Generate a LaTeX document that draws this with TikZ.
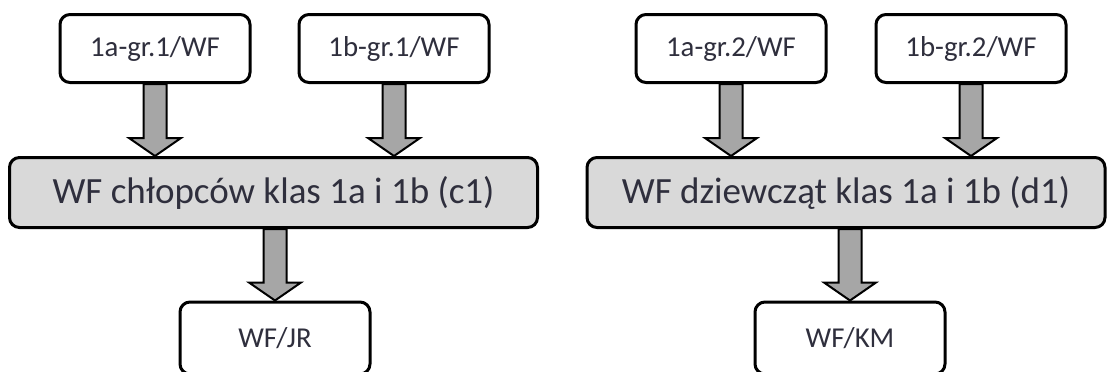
\documentclass[tikz,border=0pt]{standalone}
\usepackage{fontspec}
\setmainfont{Carlito}
\usepackage{xcolor}
\usepackage{tikz}
\usetikzlibrary{calc,backgrounds}

\definecolor{txtgray}{HTML}{2F2F3D}
\definecolor{classgray}{HTML}{D9D9D9}
\definecolor{arrowgray}{HTML}{A6A6A6}

\tikzset{
    groupbox/.style={draw, line width=1.5pt, rounded corners=5pt, fill=white, text=txtgray,
        minimum width=95pt, minimum height=34pt, inner sep=0pt,
        font=\fontsize{14.4}{17}\selectfont},
    classbox/.style={groupbox, fill=classgray, minimum height=35pt,
        font=\fontsize{18.5}{22}\selectfont},
    fatarrow/.style={draw, line width=1pt, fill=arrowgray, line join=miter,
        to path={let \p1=(\tikztostart), \p2=(\tikztotarget) in
            (\x1-5.75pt,\y1) -- (\x1-5.75pt,\y2+9pt) -- (\x1-13pt,\y2+9pt) -- (\x2,\y2)
            -- (\x1+13pt,\y2+9pt) -- (\x1+5.75pt,\y2+9pt) -- (\x1+5.75pt,\y1) -- cycle}}
}

\begin{document}
\begin{tikzpicture}[x=0.5pt, y=-0.5pt]
    \useasboundingbox (0,0) rectangle (1107,371);

    % Boys: groups, joint class, teacher
    \node[groupbox] (g1a) at (155,48.5) {1a-gr.1/WF};
    \node[groupbox] (g1b) at (394,48.5) {1b-gr.1/WF};
    \node[classbox, minimum width=264pt] (c1) at (273.5,192.5) {WF chłopców klas 1a i 1b (c1)};
    \node[groupbox, minimum height=36pt] (wfjr) at (275,338) {WF/JR};

    % Girls: groups, joint class, teacher
    \node[groupbox] (g2a) at (731,48.5) {1a-gr.2/WF};
    \node[groupbox] (g2b) at (971,48.5) {1b-gr.2/WF};
    \node[classbox, minimum width=259pt] (d1) at (846,192.5) {WF dziewcząt klas 1a i 1b (d1)};
    \node[groupbox, minimum height=36pt] (wfkm) at (850,338) {WF/KM};

    % Block arrows (behind the boxes)
    \begin{scope}[on background layer]
        \draw[fatarrow] (g1a.south) to (g1a.south |- c1.north);
        \draw[fatarrow] (g1b.south) to (g1b.south |- c1.north);
        \draw[fatarrow] (wfjr.north |- c1.south) to (wfjr.north);
        \draw[fatarrow] (g2a.south) to (g2a.south |- d1.north);
        \draw[fatarrow] (g2b.south) to (g2b.south |- d1.north);
        \draw[fatarrow] (wfkm.north |- d1.south) to (wfkm.north);
    \end{scope}
\end{tikzpicture}
\end{document}
